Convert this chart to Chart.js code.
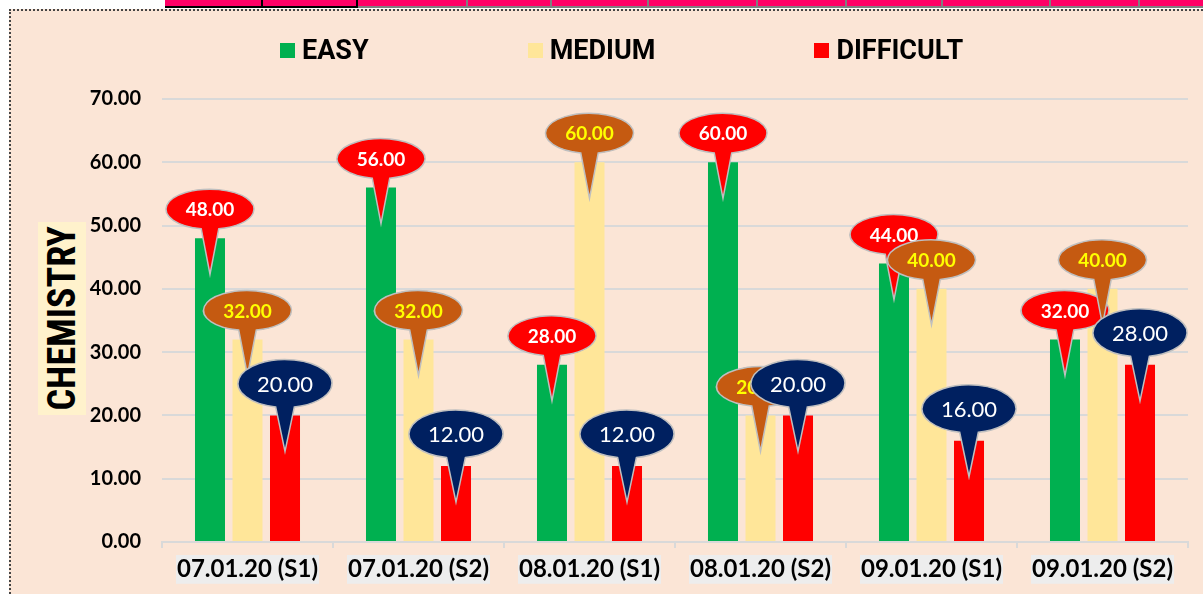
<!DOCTYPE html>
<html>
<head>
<meta charset="utf-8">
<title>Chemistry</title>
<script src="https://cdn.jsdelivr.net/npm/chart.js@4.4.0/dist/chart.umd.min.js"></script>
<style>
  html, body { margin: 0; padding: 0; background: #fff; overflow: hidden; width: 1203px; height: 594px; }
  .strip { position: absolute; top: 0; left: 165px; right: 0; height: 8px; display: flex; }
  .strip div { height: 8px; box-sizing: border-box; flex: none; background: #FF0066; border-right: 2px solid #7F7F7F; border-bottom: 2px solid #7F7F7F; }
  .strip div.dark { border-color: #000; }
  .frame { position: absolute; left: 9px; top: 9px; width: 1194px; height: 585px; box-sizing: border-box;
           border-left: 2px dotted #444; border-top: 2px dotted #444; background: #FBE5D6; }
  .frame canvas { position: absolute; left: 0; top: 0; }
  .legend { position: absolute; left: 280px; top: 37px; display: flex; align-items: center; gap: 159px; }
  .legend-item { display: flex; align-items: center; font: 700 27px Roboto, sans-serif; line-height: 27px; color: #000; }
  .legend-color { width: 15px; height: 15px; margin-right: 7px; display: inline-block; }
  .ytitle { position: absolute; left: 38px; top: 222px; width: 48px; height: 193px; background: #FFF2CC;
            display: flex; align-items: center; justify-content: center; }
  .ytitle span { writing-mode: vertical-rl; transform: rotate(180deg); font: 700 38px "Liberation Sans Narrow", "Roboto Condensed", sans-serif; color: #000; }
</style>
</head>
<body>
<div class="strip" id="strip"></div>
<div class="frame">
  <canvas id="chart" width="1192" height="583"></canvas>
</div>
<div class="legend" id="legend"></div>
<div class="ytitle"><span>CHEMISTRY</span></div>

<script>
// chart values
const categories = ['07.01.20 (S1)', '07.01.20 (S2)', '08.01.20 (S1)', '08.01.20 (S2)', '09.01.20 (S1)', '09.01.20 (S2)'];
const seriesNames = ['EASY', 'MEDIUM', 'DIFFICULT'];
const easyValues = [48, 56, 28, 60, 44, 32];
const mediumValues = [32, 32, 60, 20, 40, 40];
const difficultValues = [20, 12, 12, 20, 16, 28];
const yMin = 0;
const yMax = 70;
const yStep = 10;

const seriesColors = ['#00B050', '#FFE699', '#FF0000'];

// callout look per series (red / brown / navy bubbles)
const calloutStyles = [
    { fill: '#FF0000', text: '#FFFFFF', font: 'bold 19px Lato', rx: 44, ry: 20, lift: 29 },
    { fill: '#C55A11', text: '#FFFF00', font: 'bold 19px Lato', rx: 44, ry: 20, lift: 29 },
    { fill: '#002060', text: '#FFFFFF', font: '22px Lato', rx: 47, ry: 24, lift: 32 }
];

// spreadsheet cells peeking above the chart
const stripCells = [98, 95, 110, 84, 97, 109, 89, 96, 108, 89, 80];
const strip = document.getElementById('strip');
stripCells.forEach((w, i) => {
    const cell = document.createElement('div');
    cell.style.width = w + 'px';
    if (i < 2) cell.className = 'dark';
    strip.appendChild(cell);
});

// Legend built from series
const legend = document.getElementById('legend');
seriesNames.forEach((name, i) => {
    const item = document.createElement('div');
    item.className = 'legend-item';
    const color = document.createElement('span');
    color.className = 'legend-color';
    color.style.backgroundColor = seriesColors[i];
    const label = document.createElement('span');
    label.textContent = name;
    item.appendChild(color);
    item.appendChild(label);
    legend.appendChild(item);
});

// Draw speech-bubble labels on top of bars
const calloutPlugin = {
    id: 'callouts',
    afterDatasetsDraw(chart) {
        const ctx = chart.ctx;
        chart.data.datasets.forEach((ds, i) => {
            const st = calloutStyles[i];
            chart.getDatasetMeta(i).data.forEach((bar, j) => {
                const cx = bar.x;
                const cy = bar.y - st.lift;
                const tipY = bar.y + 36;
                const d = 0.2;
                ctx.save();
                ctx.beginPath();
                ctx.ellipse(cx, cy, st.rx, st.ry, 0, Math.PI / 2 + d, Math.PI / 2 - d + Math.PI * 2);
                ctx.lineTo(cx, tipY);
                ctx.closePath();
                ctx.fillStyle = st.fill;
                ctx.fill();
                ctx.lineWidth = 1.5;
                ctx.strokeStyle = '#BFBFBF';
                ctx.stroke();
                ctx.fillStyle = st.text;
                ctx.font = st.font;
                ctx.textAlign = 'center';
                ctx.textBaseline = 'middle';
                ctx.fillText(ds.data[j].toFixed(2), cx, cy + 1);
                ctx.restore();
            });
        });
    }
};

const values = [easyValues, mediumValues, difficultValues];

new Chart(document.getElementById('chart'), {
    type: 'bar',
    data: {
        labels: categories,
        datasets: seriesNames.map((name, i) => ({
            label: name,
            data: values[i],
            backgroundColor: seriesColors[i],
            categoryPercentage: 0.658,
            barPercentage: 0.8
        }))
    },
    options: {
        responsive: false,
        animation: false,
        layout: { padding: { top: 88, right: 15, left: 0, bottom: 0 } },
        plugins: {
            legend: { display: false },
            tooltip: { enabled: false }
        },
        scales: {
            x: {
                grid: { drawOnChartArea: false, drawTicks: true, tickLength: 6, color: '#D9D9D9', lineWidth: 2 },
                border: { color: '#D9D9D9', width: 2 },
                ticks: {
                    font: { family: 'Lato', weight: 'bold', size: 24 },
                    color: '#000',
                    padding: 7,
                    maxRotation: 0,
                    showLabelBackdrop: true,
                    backdropColor: '#EDEDED',
                    backdropPadding: { x: 1, y: 0 }
                },
                afterFit(scale) { scale.height = 52; }
            },
            y: {
                min: yMin,
                max: yMax,
                ticks: {
                    stepSize: yStep,
                    callback: v => v.toFixed(2),
                    font: { family: 'Lato', weight: 'bold', size: 20 },
                    color: '#000',
                    padding: 21
                },
                grid: { color: '#D9D9D9', lineWidth: 2, drawTicks: false },
                border: { display: false },
                afterFit(scale) { scale.width = 151; }
            }
        }
    },
    plugins: [calloutPlugin]
});
</script>
</body>
</html>
